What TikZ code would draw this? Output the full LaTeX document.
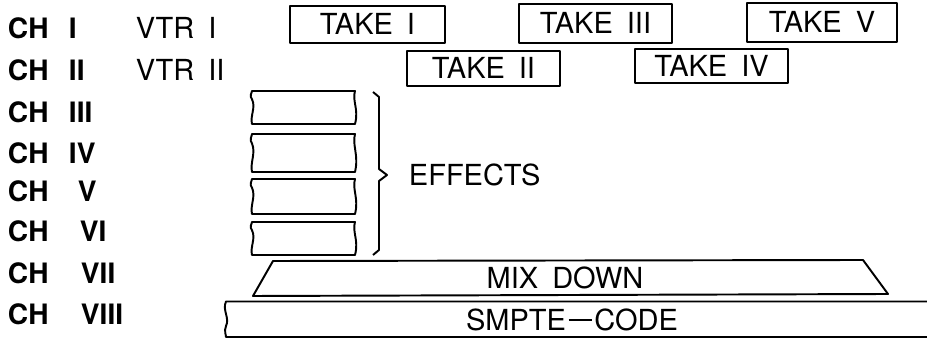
\documentclass[tikz,border=0pt]{standalone}
\usepackage{fontspec}
\setmainfont{TeX Gyre Heros}
\newcommand\wsp{\hspace{8pt}}
\begin{document}
\begin{tikzpicture}[x=0.02cm,y=-0.02cm,line width=1.1pt,line join=round,
  lbl/.style={font=\fontsize{16.5}{16.5}\selectfont,
    inner sep=0pt,text height=11.8pt,text depth=0pt},
  chlbl/.style={font=\bfseries\fontsize{16}{16}\selectfont,
    inner sep=0pt,text height=11.5pt,text depth=0pt,anchor=west},
  takebox/.style={draw,lbl,line width=1.1pt}]
\useasboundingbox (0,0) rectangle (927,340);

% channel labels
\foreach \r/\num/\nx/\yy in {1/I/68/28.5, 2/II/68/70, 3/III/68/112, 4/IV/68/153,
    5/V/77/191, 6/VI/79/231, 7/VII/80/273, 8/VIII/80/314}{
  \node[chlbl] (ch\r) at (7,\yy) {CH};
  \node[chlbl] (chn\r) at (\nx,\yy) {\num};
}

% tape machines
\node[lbl,anchor=west] (vtr1) at (135,28.5) {VTR\wsp I};
\node[lbl,anchor=west] (vtr2) at (135,70) {VTR\wsp II};

% takes
\node[takebox,minimum width=3.10cm,minimum height=0.74cm] (take1) at (367.5,24.5) {TAKE\wsp I};
\node[takebox,minimum width=3.06cm,minimum height=0.70cm] (take2) at (483.5,68.5) {TAKE\wsp II};
\node[takebox,minimum width=3.06cm,minimum height=0.78cm] (take3) at (595.5,23.5) {TAKE\wsp III};
\node[takebox,minimum width=3.06cm,minimum height=0.68cm] (take4) at (711.5,66) {TAKE\wsp IV};
\node[takebox,minimum width=3.00cm,minimum height=0.78cm] (take5) at (822,22.5) {TAKE\wsp V};

% effects tape pieces with torn ends
\foreach \t/\b in {91/124, 134/172, 179/214, 222/255}{
  \draw ({252},{\t}) -- ({355},{\t})
    .. controls ({352},{\t+0.3*(\b-\t)}) and ({359},{\t+0.55*(\b-\t)}) .. ({355},{\b})
    -- ({252},{\b})
    .. controls ({250},{\b-0.25*(\b-\t)}) and ({256},{\b-0.5*(\b-\t)}) .. ({252},{\b-0.75*(\b-\t)})
    .. controls ({249},{\b-0.85*(\b-\t)}) and ({252},{\t+0.05*(\b-\t)}) .. ({252},{\t})
    -- cycle;
}

% brace
\coordinate (brtop) at (373,92);
\coordinate (brtip) at (387,175);
\coordinate (brbot) at (373,255);
\draw (brtop) -- (379,97) -- (379,169) -- (brtip) -- (379,181) -- (379,250) -- (brbot);
\node[lbl,anchor=west] (effects) at (408,175.5) {EFFECTS};

% mix down
\draw (273,261) -- (863,260) -- (888,294) -- (253,296) -- cycle;
\node[lbl] (mix) at (565,278) {MIX\wsp DOWN};

% time code track
\draw (927,301.5) -- (226,301.5)
  .. controls (222,310) and (230,318) .. (226,326)
  .. controls (224,331) and (226,335) .. (226,337) -- (927,337);
\node[lbl] (smpte) at (572,320.5) {SMPTE\kern1.5pt\rule[0.33em]{0.8em}{0.065em}\kern1.5pt CODE};
\end{tikzpicture}
\end{document}
